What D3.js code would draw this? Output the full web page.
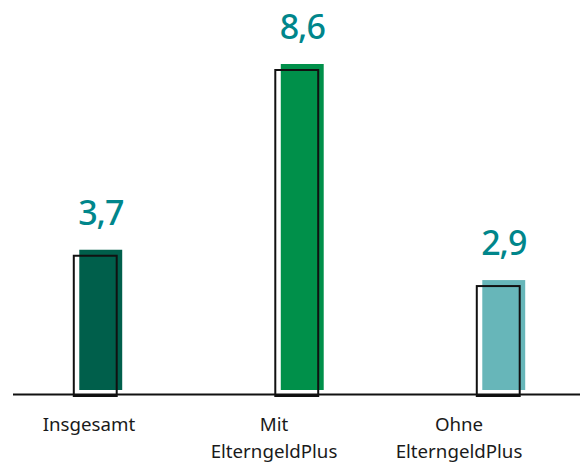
<!DOCTYPE html>
<html>
<head>
<meta charset="utf-8">
<script src="https://cdn.jsdelivr.net/npm/d3@7"></script>
<style>
  body { margin: 0; background: #fff; }
  text { font-family: "Noto Sans", "Open Sans", sans-serif; }
</style>
</head>
<body>
<div id="chart"></div>
<script>
// data
var categories = ["Insgesamt", "Mit ElterngeldPlus", "Ohne ElterngeldPlus"];
var labelLines = [["Insgesamt"], ["Mit", "ElterngeldPlus"], ["Ohne", "ElterngeldPlus"]];
var values = [3.7, 8.6, 2.9];
var valueLabels = ["3,7", "8,6", "2,9"];
var barColors = ["#005f4b", "#00904a", "#67b6b9"];

var svgWidth = 580;
var svgHeight = 463;

var svg = d3.select("#chart").append("svg")
  .attr("width", svgWidth)
  .attr("height", svgHeight);

// scales
var xScale = d3.scaleBand()
  .domain(categories)
  .range([0, 604.5])
  .paddingInner(0.787)
  .paddingOuter(0.3935);

var yScale = d3.scaleLinear()
  .domain([0, 8.6])
  .range([390, 64]);

// label positions are offset from the bars in the original
var labelScale = d3.scaleBand()
  .domain(categories)
  .range([-3.5, 551.5]);

// bars
svg.selectAll("rect.bar").data(values)
  .enter().append("rect")
  .attr("class", "bar")
  .attr("x", (d, i) => xScale(categories[i]))
  .attr("y", d => yScale(d))
  .attr("width", xScale.bandwidth())
  .attr("height", d => yScale(0) - yScale(d))
  .attr("fill", (d, i) => barColors[i]);

// outline, shifted left / down, drawn over the bars
svg.selectAll("rect.outline").data(values)
  .enter().append("rect")
  .attr("class", "outline")
  .attr("x", (d, i) => xScale(categories[i]) - 5.5)
  .attr("y", d => yScale(d) + 6)
  .attr("width", xScale.bandwidth())
  .attr("height", d => yScale(0) - yScale(d))
  .attr("fill", "none")
  .attr("stroke", "#111")
  .attr("stroke-width", 2);

// baseline
svg.append("line")
  .attr("x1", 13)
  .attr("x2", 580)
  .attr("y1", 394.5)
  .attr("y2", 394.5)
  .attr("stroke", "#111")
  .attr("stroke-width", 2);

// value labels
svg.selectAll("text.value").data(values)
  .enter().append("text")
  .attr("class", "value")
  .attr("x", (d, i) => xScale(categories[i]) + xScale.bandwidth() / 2)
  .attr("y", d => yScale(d) - 25)
  .attr("text-anchor", "middle")
  .attr("font-size", "34px")
  .attr("font-weight", 500)
  .attr("letter-spacing", "-1px")
  .attr("fill", "#00868b")
  .text((d, i) => valueLabels[i]);

// category labels
var cat = svg.selectAll("text.cat").data(categories)
  .enter().append("text")
  .attr("class", "cat")
  .attr("x", d => labelScale(d) + labelScale.bandwidth() / 2)
  .attr("y", 431)
  .attr("text-anchor", "middle")
  .attr("font-size", "18.7px")
  .attr("fill", "#1a1a1a");

cat.each(function(d, i) {
  var t = d3.select(this);
  labelLines[i].forEach(function(line, j) {
    t.append("tspan")
      .attr("x", labelScale(d) + labelScale.bandwidth() / 2)
      .attr("dy", j === 0 ? 0 : 27)
      .text(line);
  });
});
</script>
</body>
</html>
